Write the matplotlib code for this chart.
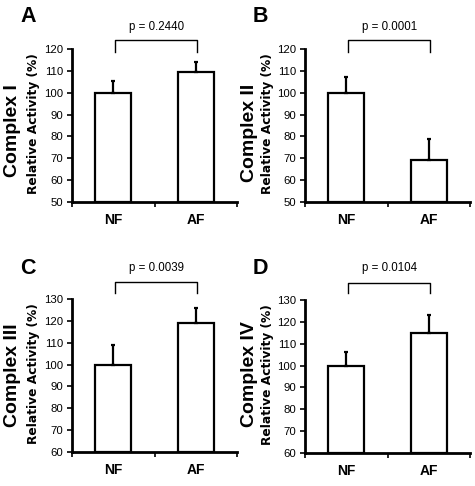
import matplotlib
matplotlib.use("Agg")
import matplotlib.pyplot as plt

categories = ["NF", "AF"]
panel_letters = ["A", "B", "C", "D"]
complex_names = ["Complex I", "Complex II", "Complex III", "Complex IV"]
means = [[100, 109.5], [100, 69], [100, 119], [100, 115]]
errors = [[5.5, 4.5], [7, 10], [9, 7], [6, 8]]
p_values = ["p = 0.2440", "p = 0.0001", "p = 0.0039", "p = 0.0104"]
y_ranges = [(50, 120), (50, 120), (60, 130), (60, 130)]
ylabel = "Relative Activity (%)"

sans = ["Liberation Sans", "DejaVu Sans"]
wide = ["DejaVu Sans"]

W, H = 475, 486
fig = plt.figure(figsize=(W / 100, H / 100), dpi=100)

# axes boxes in pixels: (left, top, right, bottom)
boxes = [(72, 49, 237, 202), (305, 49, 470, 202),
         (72, 299, 237, 452), (305, 300, 470, 453)]
bracket_px = [(40, 52, 27), (40, 52, 27), (282, 293, 268), (283, 293, 268)]
letter_px = [(28, 16), (260, 17), (28, 268), (260, 268)]
complex_x = [12.5, 249, 12.5, 249]
complex_bottom = [177, 182, 427, 427]
rel_x = [34, 268, 34, 268]

for i in range(4):
    l, t, r, b = boxes[i]
    ax = fig.add_axes([l / W, 1 - b / H, (r - l) / W, (b - t) / H])
    y0, y1 = y_ranges[i]
    xs = [0.5, 1.5]
    lower = [0, 0]
    ax.bar(xs, [m - y0 for m in means[i]], bottom=y0, width=0.44,
           color="white", edgecolor="black", linewidth=1.6, zorder=2)
    ax.errorbar(xs, means[i], yerr=[lower, errors[i]], fmt="none",
                ecolor="black", elinewidth=1.6, capsize=1.5, capthick=1.6, zorder=3)
    ax.set_xlim(0, 2)
    ax.set_ylim(y0, y1)
    ax.set_yticks(range(y0, y1 + 1, 10))
    ax.set_xticks([0, 1, 2])
    ax.set_xticklabels([])
    for s in ["top", "right"]:
        ax.spines[s].set_visible(False)
    for s in ["left", "bottom"]:
        ax.spines[s].set_linewidth(2.0)
    ax.tick_params(axis="y", direction="out", length=3.6, width=1.2, pad=2.5)
    ax.tick_params(axis="x", direction="out", length=3.6, width=1.2)
    for lab in ax.get_yticklabels():
        lab.set_family(sans)
        lab.set_fontsize(8.2)
    for x, c in zip(xs, categories):
        ax.text(x, -0.118, c, transform=ax.get_xaxis_transform(),
                ha="center", va="center", fontsize=10, fontweight="bold",
                family=sans)
    # bracket
    bt, bb, tt = bracket_px[i]
    scale = (y1 - y0) / (b - t)
    ytop = y1 + (t - bt) * scale
    ybot = y1 + (t - bb) * scale
    ytxt = y1 + (t - tt) * scale
    ax.plot([0.52, 0.52, 1.52, 1.52], [ybot, ytop, ytop, ybot], color="black",
            linewidth=1.0, clip_on=False)
    ax.text(1.03, ytxt, p_values[i], ha="center", va="center", fontsize=8.3,
            family=sans)
    lx, ly = letter_px[i]
    fig.text(lx / W, 1 - ly / H, panel_letters[i], ha="center", va="center",
             fontsize=15.5, fontweight="bold", family=sans)
    fig.text(complex_x[i] / W, 1 - complex_bottom[i] / H, complex_names[i],
             rotation=90, ha="center", va="bottom", fontsize=14,
             fontweight="bold", family=sans)
    fig.text(rel_x[i] / W, 1 - ((t + b) / 2 - 2) / H, ylabel, rotation=90,
             ha="center", va="center", fontsize=8.8, fontweight="bold", family=wide)

fig.savefig("out.png", dpi=100)
